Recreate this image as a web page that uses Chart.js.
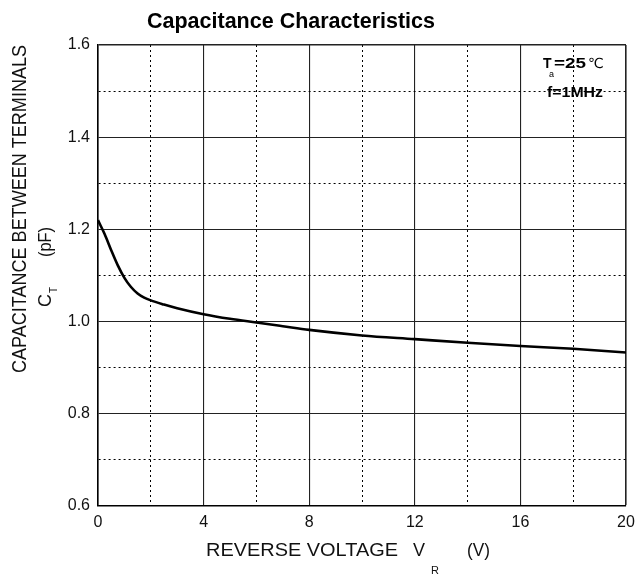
<!DOCTYPE html>
<html lang="en">
<head>
  <meta charset="UTF-8">
  <title>Capacitance Characteristics</title>
  <script src="https://cdn.jsdelivr.net/npm/chart.js"></script>
  <style>
    body { margin: 0; background: #fff; }
    #wrap { width: 638px; height: 575px; }
  </style>
</head>
<body>
<div id="wrap"><canvas id="ctChart" width="638" height="575"></canvas></div>
<script>
// curve
const voltage = [0, 0.25, 0.5, 0.75, 1, 1.25, 1.5, 1.75, 2, 2.5, 3, 4, 5, 6, 7, 8, 10, 12, 14, 16, 18, 20];
const capacitance = [1.22, 1.19, 1.155, 1.122, 1.095, 1.075, 1.061, 1.052, 1.046, 1.037, 1.029, 1.016, 1.006, 0.998, 0.99, 0.982, 0.97, 0.962, 0.954, 0.947, 0.941, 0.933];
const xLabels = [0, 4, 8, 12, 16, 20];
const yLabels = [0.6, 0.8, 1.0, 1.2, 1.4, 1.6];

const FONT = '"Liberation Sans", Arial, sans-serif';

function fitText(ctx, text, x, y, w) {
  const m = ctx.measureText(text).width;
  ctx.save();
  ctx.translate(x, y);
  ctx.scale(w / m, 1);
  ctx.fillText(text, 0, 0);
  ctx.restore();
}

function isMajor(list, v) {
  return list.some(t => Math.abs(t - v) < 1e-6);
}

const textPlugin = {
  id: 'texts',
  afterDraw(chart) {
    const ctx = chart.ctx;
    ctx.save();
    ctx.fillStyle = '#000';
    ctx.textAlign = 'left';
    ctx.textBaseline = 'alphabetic';

    // title
    ctx.font = 'bold 22px ' + FONT;
    fitText(ctx, 'Capacitance Characteristics', 147, 28, 288);

    // x axis title
    ctx.fillStyle = '#111';
    ctx.font = '18px ' + FONT;
    fitText(ctx, 'REVERSE VOLTAGE', 206, 556, 192);
    ctx.fillText('V', 413, 556);
    ctx.font = '11px ' + FONT;
    ctx.fillText('R', 431, 574);
    ctx.font = '18px ' + FONT;
    fitText(ctx, '(V)', 467, 556, 23);

    // y axis title
    ctx.save();
    ctx.translate(26, 373);
    ctx.rotate(-Math.PI / 2);
    ctx.font = '20px ' + FONT;
    fitText(ctx, 'CAPACITANCE BETWEEN TERMINALS', 0, 0, 328);
    ctx.restore();

    ctx.save();
    ctx.translate(51, 307);
    ctx.rotate(-Math.PI / 2);
    ctx.font = '18px ' + FONT;
    ctx.fillText('C', 0, 0);
    ctx.font = '10px ' + FONT;
    ctx.fillText('T', 14, 6);
    ctx.font = '18px ' + FONT;
    fitText(ctx, '(pF)', 50, 0, 30);
    ctx.restore();

    // conditions
    ctx.fillStyle = '#000';
    ctx.font = 'bold 14px ' + FONT;
    ctx.fillText('T', 543, 68);
    ctx.font = '9px ' + FONT;
    ctx.fillText('a', 549, 77);
    ctx.font = 'bold 14px ' + FONT;
    fitText(ctx, '=25', 554, 68, 32);
    ctx.font = '14px "DejaVu Sans", sans-serif';
    ctx.fillText('\u2103', 588, 68);
    ctx.font = 'bold 14px ' + FONT;
    fitText(ctx, 'f=1MHz', 547, 97, 56);
    ctx.restore();
  }
};

const points = voltage.map((v, i) => ({ x: v, y: capacitance[i] }));

new Chart(document.getElementById('ctChart'), {
  type: 'line',
  data: {
    datasets: [{
      data: points,
      borderColor: '#000',
      borderWidth: 2.6,
      pointRadius: 0,
      cubicInterpolationMode: 'monotone',
      fill: false
    }]
  },
  options: {
    responsive: false,
    animation: false,
    layout: { padding: { left: 0, right: 12, top: 45, bottom: 0 } },
    plugins: { legend: { display: false }, tooltip: { enabled: false } },
    scales: {
      x: {
        type: 'linear',
        min: 0,
        max: 20,
        afterBuildTicks: s => { s.ticks = []; for (let v = 0; v <= 20; v += 2) s.ticks.push({ value: v }); },
        afterFit: s => { s.height = 69; s.paddingLeft = 0; s.paddingRight = 0; },
        ticks: {
          autoSkip: false,
          maxRotation: 0,
          padding: 7,
          color: '#111',
          font: { family: FONT, size: 16 },
          callback: v => isMajor(xLabels, v) ? String(v) : ''
        },
        grid: {
          drawTicks: false,
          color: c => isMajor(xLabels, c.tick.value) ? '#222' : '#000',
          lineWidth: c => (c.tick.value === 20) ? 1.6 : (isMajor(xLabels, c.tick.value) ? 1.1 : 1)
        },
        border: {
          display: true,
          color: '#000',
          width: 1.6,
          dash: c => (c.tick && !isMajor(xLabels, c.tick.value)) ? [2, 3] : []
        }
      },
      y: {
        type: 'linear',
        min: 0.6,
        max: 1.6,
        afterBuildTicks: s => { s.ticks = []; for (let i = 0; i <= 10; i++) s.ticks.push({ value: +(0.6 + i * 0.1).toFixed(1) }); },
        afterFit: s => { s.width = 98; s.paddingTop = 0; s.paddingBottom = 0; },
        ticks: {
          autoSkip: false,
          padding: 8,
          color: '#111',
          font: { family: FONT, size: 16 },
          callback: v => isMajor(yLabels, v) ? v.toFixed(1) : ''
        },
        grid: {
          drawTicks: false,
          color: c => isMajor(yLabels, c.tick.value) ? '#222' : '#000',
          lineWidth: c => (Math.abs(c.tick.value - 1.6) < 1e-6) ? 1.6 : (isMajor(yLabels, c.tick.value) ? 1.1 : 1)
        },
        border: {
          display: true,
          color: '#000',
          width: 1.6,
          dash: c => (c.tick && !isMajor(yLabels, c.tick.value)) ? [2, 3] : []
        }
      }
    }
  },
  plugins: [textPlugin]
});
</script>
</body>
</html>
